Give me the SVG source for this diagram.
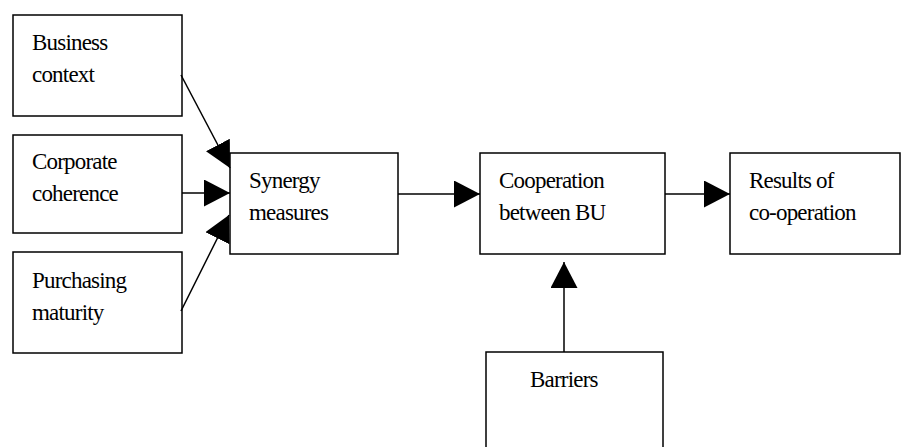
<svg xmlns="http://www.w3.org/2000/svg" width="902" height="447" viewBox="0 0 902 447">
  <defs>
    <marker id="arrow" markerUnits="userSpaceOnUse" markerWidth="27" markerHeight="27" refX="26" refY="13.5" orient="auto">
      <path d="M0,0 L26,13.5 L0,27 z" fill="#000"/>
    </marker>
    <style>
      .box { fill: #fff; stroke: #000; stroke-width: 1.5; }
      .lbl { font-family: "Liberation Serif", "Times New Roman", serif; font-size: 23px; letter-spacing: -0.8px; fill: #000; }
      .edge { stroke: #000; stroke-width: 1.5; fill: none; marker-end: url(#arrow); }
    </style>
  </defs>
  <rect width="902" height="447" fill="#fff"/>

  <g id="business-context">
    <rect class="box" x="13" y="15" width="169" height="101"/>
    <text class="lbl" x="32" y="50">Business</text>
    <text class="lbl" x="32" y="82">context</text>
  </g>

  <g id="corporate-coherence">
    <rect class="box" x="13" y="135" width="169" height="98"/>
    <text class="lbl" x="32" y="169">Corporate</text>
    <text class="lbl" x="32" y="201">coherence</text>
  </g>

  <g id="purchasing-maturity">
    <rect class="box" x="13" y="252" width="169" height="101"/>
    <text class="lbl" x="32" y="288">Purchasing</text>
    <text class="lbl" x="32" y="320">maturity</text>
  </g>

  <g id="synergy-measures">
    <rect class="box" x="230" y="153" width="168" height="101"/>
    <text class="lbl" x="249" y="188">Synergy</text>
    <text class="lbl" x="249" y="220">measures</text>
  </g>

  <g id="cooperation">
    <rect class="box" x="480" y="153" width="185" height="101"/>
    <text class="lbl" x="499" y="188">Cooperation</text>
    <text class="lbl" x="499" y="220">between BU</text>
  </g>

  <g id="results">
    <rect class="box" x="730" y="153" width="170" height="101"/>
    <text class="lbl" x="749" y="188">Results of</text>
    <text class="lbl" x="749" y="220">co-operation</text>
  </g>

  <g id="barriers">
    <rect class="box" x="486" y="352" width="177" height="110"/>
    <text class="lbl" x="530" y="387">Barriers</text>
  </g>

  <g id="connectors">
    <line class="edge" x1="181" y1="75" x2="230" y2="168"/>
    <line class="edge" x1="182" y1="193" x2="230" y2="193"/>
    <line class="edge" x1="181" y1="311" x2="229" y2="215"/>
    <line class="edge" x1="398" y1="194" x2="480" y2="194"/>
    <line class="edge" x1="665" y1="194" x2="730" y2="194"/>
    <line class="edge" x1="564" y1="352" x2="564" y2="262"/>
  </g>
</svg>
